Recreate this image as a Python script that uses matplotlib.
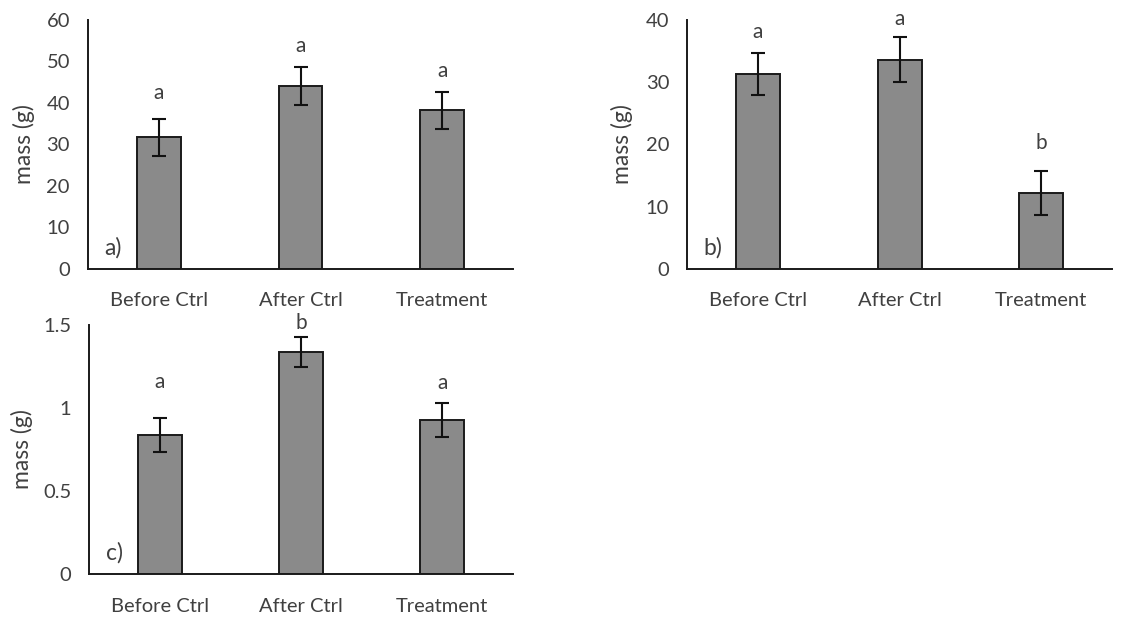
import matplotlib
matplotlib.use("Agg")
import matplotlib.pyplot as plt

categories = ["Before Ctrl", "After Ctrl", "Treatment"]

mass_a = [31.7, 44.1, 38.2]
err_a = [4.5, 4.5, 4.4]
letters_a = ["a", "a", "a"]
letter_y_a = [42.4, 53.8, 47.7]

mass_b = [31.3, 33.6, 12.2]
err_b = [3.4, 3.6, 3.5]
letters_b = ["a", "a", "b"]
letter_y_b = [38.1, 40.1, 20.2]

mass_c = [0.837, 1.339, 0.928]
err_c = [0.105, 0.09, 0.1]
letters_c = ["a", "b", "a"]
letter_y_c = [1.158, 1.51, 1.149]

yticks_a = [0, 10, 20, 30, 40, 50, 60]
yticks_b = [0, 10, 20, 30, 40]
yticks_c = [0, 0.5, 1, 1.5]
ytick_labels_c = ["0", "0.5", "1", "1.5"]

plt.rcParams['font.family'] = ['Lato', 'DejaVu Sans']

fig = plt.figure(figsize=(11.42, 6.21), dpi=100)

text_color = "#404040"
bar_color = "#8a8a8a"


def panel(rect, vals, errs, letters, letter_y, yticks, ylim, tag, ylabel_x, yticklabels=None):
    ax = fig.add_axes(rect)
    x = range(len(categories))
    ax.bar(x, vals, width=0.31, color=bar_color, edgecolor="#1a1a1a", linewidth=1.4, zorder=2)
    ax.errorbar(x, vals, yerr=errs, fmt="none", ecolor="#111111", elinewidth=1.5,
                capsize=5, capthick=1.5, zorder=3)
    for xi, ly, l in zip(x, letter_y, letters):
        ax.text(xi, ly, l, ha="center", va="center", fontsize=15, color=text_color, clip_on=False)
    ax.set_xlim(-0.5, len(categories) - 0.5)
    ax.set_ylim(*ylim)
    ax.set_yticks(yticks)
    if yticklabels is not None:
        ax.set_yticklabels(yticklabels)
    ax.set_xticks(list(x))
    ax.set_xticklabels(categories)
    ax.tick_params(axis="both", length=0, labelsize=14.5, colors=text_color)
    ax.tick_params(axis="x", pad=17)
    ax.tick_params(axis="y", pad=13)
    for s in ["top", "right"]:
        ax.spines[s].set_visible(False)
    for s in ["left", "bottom"]:
        ax.spines[s].set_color("#1a1a1a")
        ax.spines[s].set_linewidth(1.4)
    ax.set_ylabel("mass (g)", fontsize=16.5, color=text_color)
    ax.yaxis.set_label_coords(ylabel_x, 0.5)
    ax.text(0.059, 0.085, tag, transform=ax.transAxes, fontsize=16.5, color=text_color,
            ha="center", va="center")
    return ax


panel([0.0771, 0.5673, 0.3721, 0.4005], mass_a, err_a, letters_a, letter_y_a, yticks_a, (0, 60), "a)", -0.124)
panel([0.6018, 0.5673, 0.3719, 0.4005], mass_b, err_b, letters_b, letter_y_b, yticks_b, (0, 40), "b)", -0.127)
panel([0.0782, 0.0757, 0.3710, 0.4010], mass_c, err_c, letters_c, letter_y_c, yticks_c, (0, 1.5), "c)", -0.134,
      yticklabels=ytick_labels_c)

fig.savefig("out.png", dpi=100)
